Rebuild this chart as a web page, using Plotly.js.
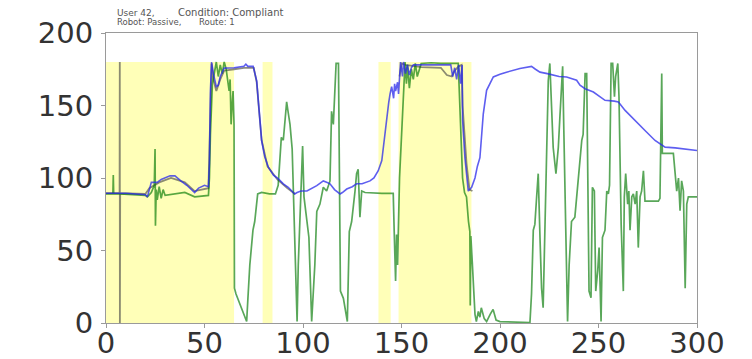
<!DOCTYPE html>
<html>
<head>
<meta charset="utf-8">
<script src="https://cdn.plot.ly/plotly-3.0.1.min.js"></script>
<style>html,body{margin:0;padding:0;background:#fff;}#chart{width:752px;height:359px;}</style>
</head>
<body>
<div id="chart"></div>
<script>
// Green series (noisy measured signal)
const greenX = [0,2,3.5,3.7,3.9,7,15,20,21,23,24.5,24.9,25.1,25.5,26,27,28,29,30,35,40,45,50,52,52.5,53,54,55,56,57,58,59,60,61,62,62.5,63,63.5,64,64.5,65,65.2,66,68,70,71.4,72,73,74.6,75.5,77,79,83,86,87.4,88,89,90,91.7,92.5,93.4,94.5,95,96,97,97.6,98.5,99.4,99.8,100.5,101.9,103,104.4,106,107,108.6,110.3,112,113.7,114.5,115.4,116.5,116.8,118,118.4,119,120.5,122,122.5,123.5,124.7,126.4,127.2,128,128.9,129.8,131.5,140,145.8,146.3,147,147.5,148,149,150,150.9,151.8,152.5,153,154,155,156,157,158,160,165,170,178.8,180,181,182,183,184,184.7,184.9,185.2,186,187.3,188,189,189.8,190.5,192,193.2,195,196.5,198,200,215.2,216,216.9,217.7,218.5,219.4,220.3,221.1,221.9,222.8,223.6,224.5,225.3,226.2,227,228.4,229.6,230.4,231.8,232.4,233.5,234.3,235.1,236.3,238,239.8,241.5,242.2,243.2,244,244.5,245.2,246.2,246.9,247.9,248.6,249.6,250.3,251.3,252,253.3,254.2,255,255.6,256.4,257.2,258.1,258.7,259.8,260.4,261.5,262.6,263.1,263.8,264.8,265.4,266,266.9,267.7,268.6,269.4,270.2,271.1,271.9,272.8,273.6,280.4,281.2,282.1,282.4,288,288.9,289.7,290.6,291.4,292.2,293.1,294,294.8,295.6,300];
const greenY = [89,89,89,102,89,89,88.5,88,87,90,95,120,67,92,85,94,86,92,88,89,90,87,87.5,88,100,130,165,172,180,170,178,172,180,175,163,160,168,137,150,160,137,24,20,13,5,1,16,40,64,70,89,90,89,89,95,110,128,126,152.5,145,137,120,98,52,1,40,73,100,122,87,73,59,1,40,77,82,93.6,91,98,146,137,170,179,179,87,22,17,6,1,63,70,91,103,106,73,91,90,89.4,89.4,63,29,61,40,100,133,156,180,165,178,162,175,168,179,170,179,179.5,179,179,140,100,90,87,70,63,12,60,40,6,1,8,4,10.5,3,1,6,9.4,2,1,0.3,20,64,68,85,103,59,24,10.5,64,128,167,179,144,121,103,121,142,177,133,64,1,40,70,73,98,126,130,172,172,91,22,17.5,93.6,91,22,36,52,1,59,64,91,89,95,179,179,156,170,179,156,68,22,87,103,82,91,64,87,89,82,91,52,87,91,105,84,84,86,172,117,117,105,91,100,77.5,98,91,24,82,87,87];

// Blue series (smooth signal)
const blueX = [0,10,20,21,22,23,26,28,32.5,35,38,41,45,47,50,52,52.5,53,53.6,54.5,56,57,58,60,65,70,71,72,74.7,75.5,76.5,77.5,79,80.5,82.4,85,87.4,90,92.5,95.8,97,99,102,107,110.3,112,113.7,116,118.8,120,122.2,125,127.2,130,134,136,138.2,140,140.8,141.6,142.5,143.5,144.2,145,146,146.5,147,148,148.5,149,149.5,150.5,151,152,153,154,155,156,160,175,176,177,178,179,180,180.8,181,182.2,183.9,185.6,187.3,188.5,189.8,191.5,193.2,196.6,200,203.3,210.1,214,216,218,220.3,224,227,230,233.8,238.9,240.6,243.2,247.4,250,253.3,258,260.1,263.5,266,268.6,273.6,278.7,283.8,288.9,297.3,300];
const blueY = [89.5,89.5,88.5,87,92,97,97,99,101.5,101.5,98,95,90,93,95,94,110,160,180,172,163,164,170,175.8,176,177,178.5,177,177,173,167,150,126,115,107.5,102,99.6,96,93.6,89,90,91,91,94.7,98,97,96,92,89,90,92.4,94,96,96,98,100,105,112,121,130,144,152,158,163,155,165,160,166,158,170,180,170,180,172,178,171,176,178,178,178,170,176,168,178,165,178,140,114,91,93.6,100,108,114,144,160.5,169.7,171.5,173,175.5,176.5,177,175,173,172,170.9,170,169.7,167.4,164,161.6,159.3,157,153.6,153,152.4,146.6,143,139.7,132.8,125.9,121.3,120.8,119.4,119];

// Gray series (reference signal, partly hidden)
const grayX = [0,6.9,7,7.05,7.1,7.2,20,22,27,33,40,45,52,53,53.6,54.5,56,58,60,65,70,75,76.5,79,82,87,92,96,null,149,150,152,160,170,173,175.5,177,179,180.5,181,182,183,184.5,186];
const grayY = [89.5,89.5,180,0,89.5,89.5,89,93,97,100,97,91,93,150,179,168,160,168,174,175,176,176,166,126,108,99,93,89,null,170,179,178,176.5,176,171,170,174,177,178,150,130,110,92,91];

// Shaded phases
const shadeStart = [0,79.5,138.3,148.5];
const shadeEnd = [65,84.5,144.5,185.5];
const shadeTop = 180;

const xTicks = [0,50,100,150,200,250,300];
const yTicks = [0,50,100,150,200];
// Title pieces: text, left pixel, line index, font size
const titleText = ["User 42,", "Condition: Compliant", "Robot: Passive,", "Route: 1"];
const titleLeft = [115, 176, 115, 197];
const titleLine = [0, 0, 1, 1];
const titleSize = [9, 10, 8.5, 8.5];

const shapes = shadeStart.map((s, i) => ({
  type: 'rect', xref: 'x', yref: 'y', x0: s, x1: shadeEnd[i], y0: 0, y1: shadeTop,
  fillcolor: '#ffffb8', line: {width: 0}, layer: 'below'
}));

const traces = [
  {x: grayX, y: grayY, mode: 'lines', line: {color: 'rgba(100,100,90,0.75)', width: 1.8}, connectgaps: false, hoverinfo: 'skip'},
  {x: greenX, y: greenY, mode: 'lines', line: {color: 'rgba(0,120,0,0.65)', width: 1.7}, hoverinfo: 'skip'},
  {x: blueX, y: blueY, mode: 'lines', line: {color: 'rgba(40,40,235,0.75)', width: 1.6}, hoverinfo: 'skip'}
];

const axisCommon = {
  showgrid: false, zeroline: false, showline: true, mirror: true,
  linecolor: '#9a9a9a', linewidth: 1, ticks: 'outside', ticklen: 4, tickcolor: '#9a9a9a',
  tickfont: {family: 'DejaVu Sans', size: 29, color: '#333'}
};

const plotL = 106, plotW = 752 - 106 - 54.5;

const layout = {
  width: 752, height: 359,
  margin: {l: plotL, r: 54.5, t: 33.3, b: 36},
  paper_bgcolor: '#fff', plot_bgcolor: '#fff',
  showlegend: false,
  xaxis: Object.assign({}, axisCommon, {range: [0, 300], tickvals: xTicks, ticktext: xTicks.map(String), ticklabelstandoff: -10}),
  yaxis: Object.assign({}, axisCommon, {range: [0, 200], tickvals: yTicks, ticktext: yTicks.map(String), ticklabelstandoff: 2}),
  shapes: shapes,
  annotations: titleText.map((t, i) => ({
    text: t, xref: 'paper', yref: 'paper', x: (titleLeft[i] - plotL) / plotW, y: 1,
    yshift: titleLine[i] === 0 ? 20.3 : 11.3,
    xanchor: 'left', yanchor: 'middle', showarrow: false,
    font: {family: 'DejaVu Sans', size: titleSize[i], color: '#555'}
  }))
};

Plotly.newPlot('chart', traces, layout, {staticPlot: true, displayModeBar: false});
</script>
</body>
</html>
